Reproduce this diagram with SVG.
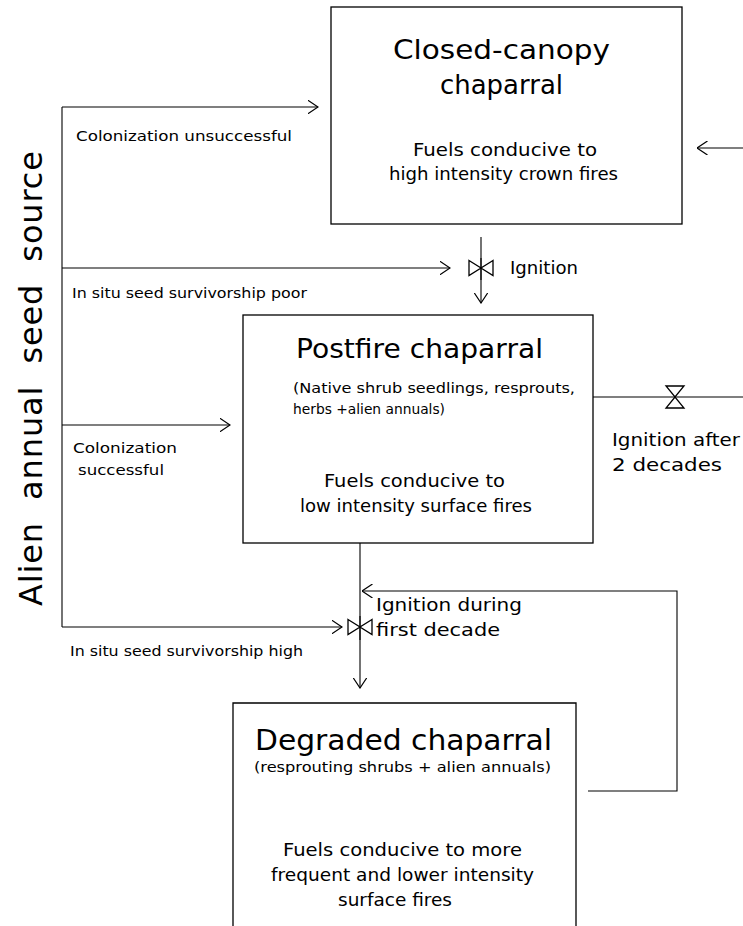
<svg xmlns="http://www.w3.org/2000/svg" width="743" height="926" viewBox="0 0 743 926">
  <style>
    text { font-family: "DejaVu Sans", "Liberation Sans", sans-serif; fill: #000; }
    .box { fill: none; stroke: #000; stroke-width: 1.3; }
    .ln { fill: none; stroke: #000; stroke-width: 1.1; }
    .valve { fill: #fff; stroke: #000; stroke-width: 1.3; stroke-linejoin: miter; }
    .title { font-size: 27px; }
    .body { font-size: 17px; }
    .small { font-size: 14px; }
    .lbl { font-size: 14.5px; }
    .ign { font-size: 17px; }
    .side { font-size: 32px; }
  </style>
  <defs>
    <marker id="arr" viewBox="0 0 11 14" refX="10.5" refY="7" markerWidth="11" markerHeight="14" markerUnits="userSpaceOnUse" orient="auto">
      <path d="M0,0 L10.5,7 L0,14" fill="none" stroke="#000" stroke-width="1.2"/>
    </marker>
  </defs>

  <rect width="743" height="926" fill="#fff"/>

  <!-- vertical source label -->
  <text class="side" transform="translate(42,606) rotate(-90)" textLength="455" xml:space="preserve">Alien  annual  seed  source</text>

  <!-- connectors -->
  <g id="connectors">
    <!-- seed source trunk -->
    <path class="ln" d="M62,107 V627"/>
    <path class="ln" d="M62,107 H318" marker-end="url(#arr)"/>
    <path class="ln" d="M62,268 H450" marker-end="url(#arr)"/>
    <path class="ln" d="M62,425 H230" marker-end="url(#arr)"/>
    <path class="ln" d="M62,627 H342" marker-end="url(#arr)"/>
    <!-- closed canopy to postfire -->
    <path class="ln" d="M481,237 V303" marker-end="url(#arr)"/>
    <!-- postfire to degraded -->
    <path class="ln" d="M360,543 V688" marker-end="url(#arr)"/>
    <!-- postfire back to closed canopy -->
    <path class="ln" d="M593,397 H743"/>
    <path class="ln" d="M743,148 H697" marker-end="url(#arr)"/>
    <!-- degraded feedback loop -->
    <path class="ln" d="M588,791 H677 V591 H362" marker-end="url(#arr)"/>
  </g>

  <!-- ignition valves -->
  <g id="valve-ignition">
    <polygon class="valve" points="469,260.5 481,268 469,275.5"/>
    <polygon class="valve" points="493,260.5 481,268 493,275.5"/>
    <path class="ln" d="M481,258 V280"/>
  </g>
  <g id="valve-first-decade">
    <polygon class="valve" points="348,619.5 360,627 348,634.5"/>
    <polygon class="valve" points="372,619.5 360,627 372,634.5"/>
    <path class="ln" d="M360,616 V640"/>
  </g>
  <g id="valve-two-decades">
    <polygon class="valve" points="666,386 684,386 675,397"/>
    <polygon class="valve" points="666,408 684,408 675,397"/>
  </g>

  <!-- nodes -->
  <g id="closed-canopy">
    <rect class="box" x="331" y="7" width="351" height="217"/>
    <text class="title" x="393" y="59" textLength="217" lengthAdjust="spacingAndGlyphs">Closed-canopy</text>
    <text class="title" x="440" y="94" textLength="123" lengthAdjust="spacingAndGlyphs">chaparral</text>
    <text class="body" x="413" y="156" textLength="184" lengthAdjust="spacingAndGlyphs">Fuels conducive to</text>
    <text class="body" x="389" y="180" textLength="229" lengthAdjust="spacingAndGlyphs">high intensity crown fires</text>
  </g>

  <g id="postfire">
    <rect class="box" x="243" y="315" width="350" height="228"/>
    <text class="title" x="296" y="358" textLength="247" lengthAdjust="spacingAndGlyphs">Postfire chaparral</text>
    <text class="small" x="293" y="393" textLength="282" lengthAdjust="spacingAndGlyphs">(Native shrub seedlings, resprouts,</text>
    <text class="small" x="293" y="414" textLength="152" lengthAdjust="spacingAndGlyphs">herbs +alien annuals)</text>
    <text class="body" x="324" y="487" textLength="181" lengthAdjust="spacingAndGlyphs">Fuels conducive to</text>
    <text class="body" x="300" y="512" textLength="232" lengthAdjust="spacingAndGlyphs">low intensity surface fires</text>
  </g>

  <g id="degraded">
    <path class="box" d="M233,940 V703 H576 V940"/>
    <text class="title" x="255" y="750" style="font-size:28px" textLength="297" lengthAdjust="spacingAndGlyphs">Degraded chaparral</text>
    <text class="small" x="254" y="772" textLength="297" lengthAdjust="spacingAndGlyphs">(resprouting shrubs + alien annuals)</text>
    <text class="body" x="283" y="856" textLength="239" lengthAdjust="spacingAndGlyphs">Fuels conducive to more</text>
    <text class="body" x="271" y="881" textLength="263" lengthAdjust="spacingAndGlyphs">frequent and lower intensity</text>
    <text class="body" x="338" y="906" textLength="114" lengthAdjust="spacingAndGlyphs">surface fires</text>
  </g>

  <!-- transition labels -->
  <g id="labels">
    <text class="lbl" x="76" y="141" textLength="216" lengthAdjust="spacingAndGlyphs">Colonization unsuccessful</text>
    <text class="lbl" x="72" y="298" textLength="235" lengthAdjust="spacingAndGlyphs">In situ seed survivorship poor</text>
    <text class="lbl" x="73" y="453" textLength="104" lengthAdjust="spacingAndGlyphs">Colonization</text>
    <text class="lbl" x="78" y="475" textLength="86" lengthAdjust="spacingAndGlyphs">successful</text>
    <text class="lbl" x="70" y="656" textLength="233" lengthAdjust="spacingAndGlyphs">In situ seed survivorship high</text>
    <text class="ign" x="510" y="274" textLength="68" lengthAdjust="spacingAndGlyphs">Ignition</text>
    <text class="ign" x="612" y="446" textLength="128" lengthAdjust="spacingAndGlyphs">Ignition after</text>
    <text class="ign" x="612" y="471" textLength="110" lengthAdjust="spacingAndGlyphs">2 decades</text>
    <text class="ign" x="376" y="611" textLength="146" lengthAdjust="spacingAndGlyphs">Ignition during</text>
    <text class="ign" x="376" y="636" textLength="124" lengthAdjust="spacingAndGlyphs">first decade</text>
  </g>
</svg>
